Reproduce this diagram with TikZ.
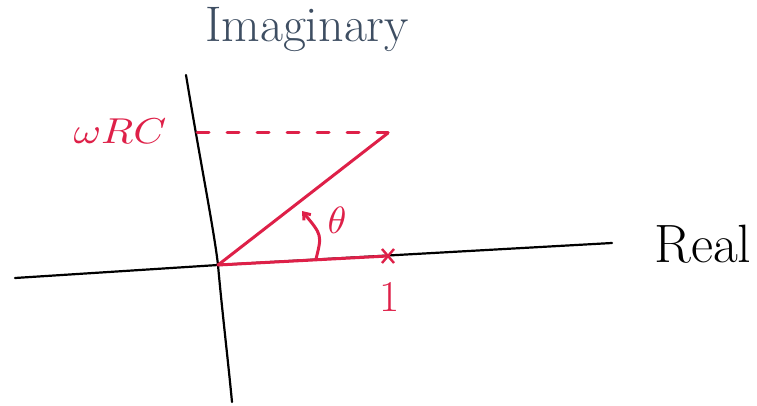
\documentclass[tikz,border=0pt]{standalone}
\usepackage{fontspec}
\usetikzlibrary{arrows.meta,calc}
\definecolor{pen}{RGB}{222,32,72}
\definecolor{slate}{RGB}{62,78,98}
\begin{document}
\begin{tikzpicture}[x=1pt,y=-1pt,
  axis/.style={draw=black,line width=2.2pt,line cap=round},
  redline/.style={draw=pen,line width=3pt,line cap=round},
  redtext/.style={text=pen,inner sep=0pt},
]
\useasboundingbox (0,0) rectangle (757,406);
% coordinates
\coordinate (O) at (218,265);
\coordinate (P) at (388,133);
\coordinate (X) at (388,256);
\coordinate (HL) at (15,278);
\coordinate (HR) at (612,243);
\coordinate (VT) at (186,75);
\coordinate (VB) at (232,402);
\coordinate (DS) at (197,133);
\coordinate (AS) at (316,259);
\coordinate (AE) at (302,211);
% axes
\draw[axis] (HL) -- (O) -- (HR);
\draw[axis] (VT) .. controls (200,160) and (214,230) .. (O) .. controls (222,310) and (228,360) .. (VB);
% red lines
\draw[redline] (O) -- (P);
\draw[redline] (O) -- (X);
\draw[redline,dash pattern=on 12pt off 18pt] (DS) -- (P);
\draw[draw=pen,line width=2.4pt] ($(X)+(-6,-7)$) -- ($(X)+(6,7)$) ($(X)+(6,-7)$) -- ($(X)+(-6,7)$);
\draw[redline,-{Straight Barb[length=6pt,width=9pt]}] (AS) .. controls (322,235) .. (AE);
% labels
\node[text=slate,font=\fontsize{50}{56}\selectfont,inner sep=0pt] (imag) at (307,30) {Imaginary};
\node[font=\fontsize{54}{60}\selectfont,inner sep=0pt] (real) at (703,244) {Real};
\node[redtext] (wrc) at (120,131) {\scalebox{4.2}[3.6]{$\omega RC$}};
\node[redtext] (theta) at (337,220) {\scalebox{3.8}{$\theta$}};
\node[redtext,font=\fontsize{44}{50}\selectfont] (one) at (390,297) {1};
\end{tikzpicture}
\end{document}
